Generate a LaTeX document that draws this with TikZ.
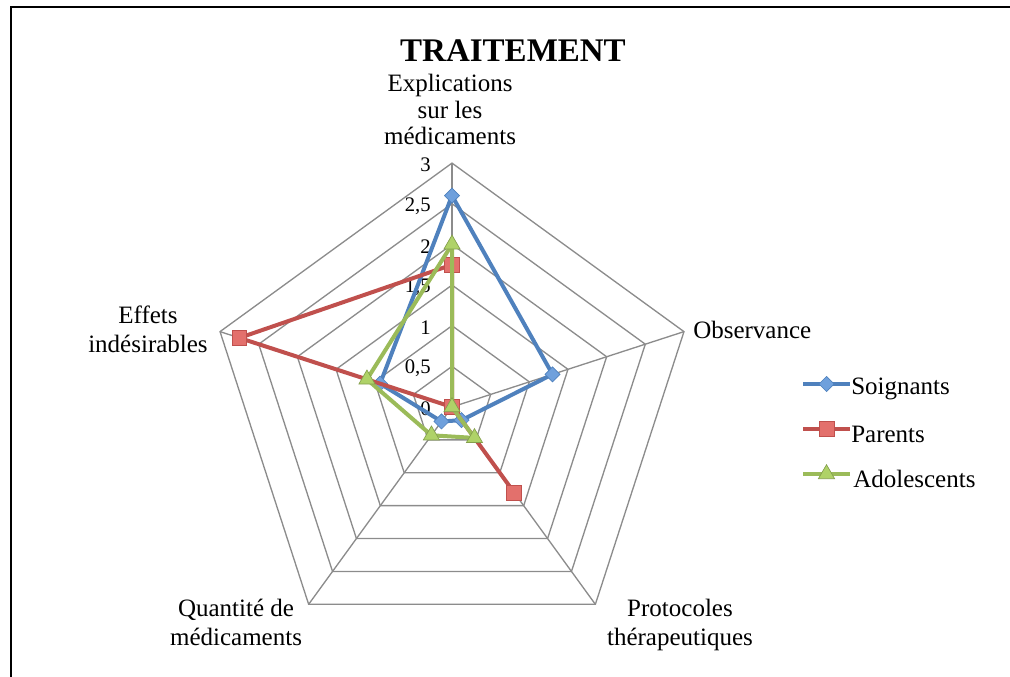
\documentclass[tikz,border=0pt]{standalone}
\usepackage{fontspec}
\setmainfont{Liberation Serif}
\usetikzlibrary{shapes.geometric}
\definecolor{gridgray}{HTML}{8C8C8C}
\definecolor{sblue}{HTML}{4F81BD}
\definecolor{sred}{HTML}{C0504D}
\definecolor{sgreen}{HTML}{9BBB59}
\definecolor{mblue}{HTML}{6FA0DC}
\definecolor{mred}{HTML}{E3706C}
\definecolor{mgreen}{HTML}{AFD268}
\tikzset{
  frameline/.style={line width=1.5pt, black},
  titlefont/.style={font=\fontsize{24.75}{26}\selectfont\bfseries, inner sep=0},
  lbl/.style={font=\fontsize{18.75}{20}\selectfont, align=center, inner sep=0},
  lbltwo/.style={font=\fontsize{18.75}{21.5}\selectfont, align=center, inner sep=0},
  ticklbl/.style={font=\fontsize{15.5}{16}\selectfont, anchor=east, inner sep=0},
  gridline/.style={draw=gridgray, line width=1pt, line join=miter},
  serie/.style={line width=3pt, line join=round},
  legline/.style={line width=2.5pt},
  mkdiamond/.style={shape=diamond, draw=sblue, fill=mblue, line width=0.5pt, inner sep=0, minimum size=11.5pt},
  mksquare/.style={shape=rectangle, draw=sred, fill=mred, line width=0.5pt, inner sep=0, minimum size=11pt},
  mktriangle/.style={shape=regular polygon, regular polygon sides=3, draw=sgreen!85!black, fill=mgreen, line width=0.5pt, inner sep=0, minimum size=14pt},
}
\begin{document}
\begin{tikzpicture}[x=0.75pt,y=-0.75pt]
\useasboundingbox (0,0) rectangle (1010,677);
% frame
\coordinate (fbl) at (11,677);
\coordinate (ftl) at (11,7);
\coordinate (ftr) at (1010,7);
\draw[frameline] (fbl) -- (ftl) -- (ftr);
% title
\node[titlefont, anchor=base] (title) at (513,62) {TRAITEMENT};

\begin{scope}[shift={(452,407)}, y=0.75pt]
  \def\u{81.3}
  \coordinate (C) at (0,0);
  % grid pentagons
  \foreach \k in {1,...,6} {
    \draw[gridline] (90:{\k*0.5*\u}) -- (18:{\k*0.5*\u}) -- (-54:{\k*0.5*\u}) -- (-126:{\k*0.5*\u}) -- (162:{\k*0.5*\u}) -- cycle;
  }
  % spokes
  \foreach \a/\n in {90/E,18/O,-54/P,-126/Q,162/F} {
    \coordinate (ax\n) at (\a:{3*\u});
    \draw[gridline] (C) -- (ax\n);
  }
  % tick labels
  \foreach \v/\t [count=\i] in {0/0,0.5/{0,5},1/1,1.5/{1,5},2/2,2.5/{2,5},3/3} {
    \node[ticklbl] (tick\i) at (-21,{\v*\u-2}) {\t};
  }
  % Soignants
  \coordinate (s1) at (90:{2.6*\u});
  \coordinate (s2) at (18:{1.3*\u});
  \coordinate (s3) at (-54:{0.2*\u});
  \coordinate (s4) at (-126:{0.22*\u});
  \coordinate (s5) at (162:{0.93*\u});
  \draw[serie, sblue] (s1) -- (s2) -- (s3) -- (s4) -- (s5) -- cycle;
  \foreach \i in {1,...,5} \node[mkdiamond] (ms\i) at (s\i) {};
  % Parents
  \coordinate (p1) at (90:{1.75*\u});
  \coordinate (p2) at (18:{0*\u});
  \coordinate (p3) at (-54:{1.3*\u});
  \coordinate (p4) at (-126:{0*\u});
  \coordinate (p5) at (162:{2.75*\u});
  \draw[serie, sred] (p1) -- (p2) -- (p3) -- (p4) -- (p5) -- cycle;
  \foreach \i in {1,...,5} \node[mksquare] (mp\i) at (p\i) {};
  % Adolescents
  \coordinate (a1) at (90:{2.0*\u});
  \coordinate (a2) at (18:{0*\u});
  \coordinate (a3) at (-54:{0.47*\u});
  \coordinate (a4) at (-126:{0.43*\u});
  \coordinate (a5) at (162:{1.1*\u});
  \draw[serie, sgreen] (a1) -- (a2) -- (a3) -- (a4) -- (a5) -- cycle;
  \foreach \i in {1,...,5} \node[mktriangle] (ma\i) at (a\i) {};
\end{scope}

% axis labels
\node[lbl, anchor=north] (labE) at (450,74) {Explications\\sur les\\médicaments};
\node[lbl, anchor=base west] (labO) at (693,339) {Observance};
\node[lbltwo, anchor=north] (labP) at (680,599) {Protocoles\\thérapeutiques};
\node[lbltwo, anchor=north] (labQ) at (236,599) {Quantité de\\médicaments};
\node[lbltwo, anchor=north] (labF) at (148,306) {Effets\\indésirables};

% legend
\coordinate (lg1a) at (803,384); \coordinate (lg1b) at (850,384);
\coordinate (lg2a) at (803,429); \coordinate (lg2b) at (850,429);
\coordinate (lg3a) at (803,474); \coordinate (lg3b) at (850,474);
\draw[legline, sblue] (lg1a) -- (lg1b);
\node[mkdiamond] (lgm1) at (826.5,384) {};
\draw[legline, sred] (lg2a) -- (lg2b);
\node[mksquare] (lgm2) at (826.5,429) {};
\draw[legline, sgreen] (lg3a) -- (lg3b);
\node[mktriangle] (lgm3) at (826.5,474) {};
\node[lbl, anchor=west] (lgt1) at (851,389) {Soignants};
\node[lbl, anchor=west] (lgt2) at (851,434) {Parents};
\node[lbl, anchor=west] (lgt3) at (853,479) {Adolescents};
\end{tikzpicture}
\end{document}
